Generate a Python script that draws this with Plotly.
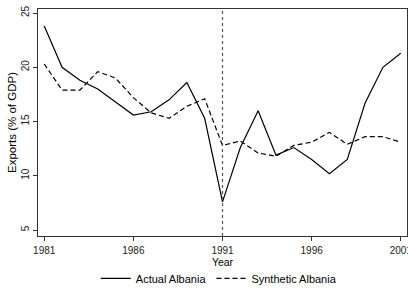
import plotly.graph_objects as go

years = list(range(1981, 2002))
actual = [23.8, 20.0, 18.8, 18.0, 16.8, 15.6, 15.9, 17.0, 18.6, 15.3, 7.6,
          12.6, 16.0, 11.9, 12.6, 11.5, 10.2, 11.5, 16.7, 20.0, 21.3]
synthetic = [20.3, 17.9, 17.9, 19.6, 19.0, 17.2, 15.8, 15.3, 16.4, 17.1, 12.8,
             13.2, 12.1, 11.8, 12.8, 13.1, 14.0, 12.9, 13.6, 13.6, 13.1]
xticks = [1981, 1986, 1991, 1996, 2001]
yticks = [5, 10, 15, 20, 25]
treat_year = 1991

fig = go.Figure()
fig.add_trace(go.Scatter(x=years, y=actual, mode="lines", name="Actual Albania",
                         line=dict(color="black", width=1.2)))
fig.add_trace(go.Scatter(x=years, y=synthetic, mode="lines", name="Synthetic Albania",
                         line=dict(color="black", width=1.2, dash="5px,3px")))
fig.add_shape(type="line", x0=treat_year, x1=treat_year, xref="x", yref="paper",
              y0=0, y1=1, line=dict(color="#555555", width=1.2, dash="dot"))

axis_common = dict(showgrid=False, zeroline=False, showline=True, linecolor="#333333",
                   linewidth=1, mirror=True, ticks="outside", ticklen=4, automargin=False,
                   tickcolor="#333333", tickfont=dict(size=10, color="#222222"),
                   ticklabeloverflow="allow")
fig.update_xaxes(range=[1980.65, 2001.35], tickvals=xticks, ticktext=[str(t) for t in xticks],
                 ticklabelstandoff=1,
                 title=dict(text="Year", font=dict(size=10.5, color="black"), standoff=0),
                 **axis_common)
fig.update_yaxes(range=[4.45, 25.37], tickvals=yticks, tickangle=-90,
                 title=dict(text="Exports (% of GDP)", font=dict(size=11.5, color="black"), standoff=0),
                 **axis_common)
fig.update_layout(width=408, height=291, margin=dict(l=38, r=1, t=9, b=55, autoexpand=False),
                  plot_bgcolor="white", paper_bgcolor="white",
                  font=dict(family="Liberation Sans, Arial, sans-serif", size=10, color="black"),
                  legend=dict(orientation="h", x=0.49, xanchor="center", y=-0.187, yanchor="middle",
                              font=dict(size=11), tracegroupgap=0, itemwidth=30),
                  showlegend=True)
fig.write_html("out.html", config={"displayModeBar": False},
               post_script="document.body.style.margin='0';")
